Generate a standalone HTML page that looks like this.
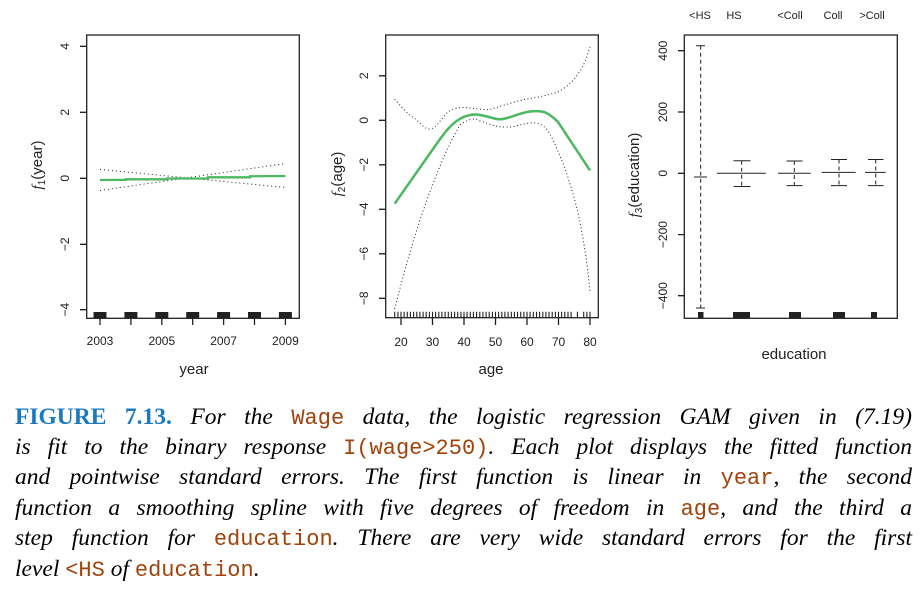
<!DOCTYPE html>
<html><head><meta charset="utf-8"><style>
body{margin:0;background:#fff;width:920px;height:590px;overflow:hidden;position:relative}
svg{position:absolute;left:0;top:0}
.cap{position:absolute;left:15px;width:897px;font-family:"Liberation Serif",serif;font-style:italic;font-size:23.5px;text-align:justify;text-align-last:justify;white-space:nowrap;line-height:30px}
.cap.last{text-align-last:left}
.b{font-style:normal;font-weight:bold;color:#1a78c0}
.c{font-family:"Liberation Mono",monospace;font-style:normal;color:#a0420a;font-size:22px}
</style></head><body>
<svg width="920" height="390" font-family="Liberation Sans, sans-serif" font-size="12" fill="#222">
<g fill="none" stroke="#222" stroke-width="1.3">
<rect x="86.7" y="35" width="212.6" height="283.3"/>
<rect x="385.7" y="35" width="212.6" height="282.7"/>
<rect x="684.3" y="35" width="213" height="283.3"/>
<path d="M80 46.3h6.7M80 112.3h6.7M80 178.3h6.7M80 244.3h6.7M80 309.7h6.7"/>
<path d="M100 318v7M130.9 318v7M161.8 318v7M192.7 318v7M223.6 318v7M254.5 318v7M285.4 318v7"/>
<path d="M379 75.8h6.7M379 120.3h6.7M379 164.8h6.7M379 209.3h6.7M379 253.8h6.7M379 298.3h6.7"/>
<path d="M401 318v7M432.5 318v7M464 318v7M495.5 318v7M527 318v7M558.5 318v7M590 318v7"/>
<path d="M678 50.7h6.3M678 112h6.3M678 173.3h6.3M678 234.6h6.3M678 295.7h6.3"/>
</g>
<g fill="#222">
<rect x="93.5" y="312" width="13" height="6"/><rect x="124.4" y="312" width="13" height="6"/><rect x="155.3" y="312" width="13" height="6"/><rect x="186.2" y="312" width="13" height="6"/><rect x="217.1" y="312" width="13" height="6"/><rect x="248" y="312" width="13" height="6"/><rect x="278.9" y="312" width="13" height="6"/>
<rect x="698" y="312" width="5.5" height="6"/><rect x="733" y="312" width="17" height="6"/><rect x="789" y="312" width="12" height="6"/><rect x="833" y="312" width="12" height="6"/><rect x="871" y="312" width="6" height="6"/>
</g>
<path id="rug" stroke="#222" stroke-width="1.1" fill="none" d=""/>
<path d="M100 169.4L285.4 187.5" stroke="#222" stroke-width="1" stroke-dasharray="1,3" fill="none"/>
<path d="M100 190.5L285.4 163.5" stroke="#222" stroke-width="1" stroke-dasharray="1,3" fill="none"/>
<path d="M100 180L126 179.8 126 179.3 167 179.3 167 178.5 208 178.5 208 177.3 250 177.3 250 176.3 285.4 176" stroke="#4cb862" stroke-width="2.3" fill="none"/>
<path d="M394.7 99.2 C400 105,407 114,414 118 C420 122,425 130,430 129 C437 128,442 117,448 112 C455 107,462 107,470 108 C480 109,488 111,495 108 C505 105,520 100,527 99 C540 97,548 95,558 92 C565 88,572 83,578 74 C584 66,587 57,590 46.9" stroke="#222" stroke-width="1" stroke-dasharray="1,2.5" fill="none"/>
<path d="M394.7 309 C402 280,410 250,420 220 C432 185,445 150,460 125 C470 118,475 118,480 121 C490 124,497 128,510 127 C520 126,525 122,536 123 C545 125,548 130,553 140 C560 155,566 170,571 187 C578 210,585 240,590 291.6" stroke="#222" stroke-width="1" stroke-dasharray="1,2.5" fill="none"/>
<path d="M394.7 203.7 L433 149 C446 130,455 118,470 115 C480 113,490 118,498 119.2 C507 120,518 113,530 111.5 C543 110,548 112,558 122 L590 170.4" stroke="#4cb862" stroke-width="2.5" fill="none"/>
<g stroke="#222" stroke-width="1" fill="none">
<path d="M700.7 45.7V308" stroke-dasharray="4,3"/>
<path d="M694 177h13M696 45.7h9M696 308h9"/>
<path d="M717 173.3h48.7M733.5 160.7h17M733.5 186.5h17"/>
<path d="M741.7 160.7v26" stroke-dasharray="4,3"/>
<path d="M778 173.3h32.7M786.5 161h16M786.5 185.6h16"/>
<path d="M794.3 161v25" stroke-dasharray="4,3"/>
<path d="M821.7 172.4h34M831 159.5h16M831 185.6h16"/>
<path d="M839 159.5v26" stroke-dasharray="4,3"/>
<path d="M865 172.4h20.7M868 159.5h15.5M868 185.6h15.5"/>
<path d="M875.7 159.5v26" stroke-dasharray="4,3"/>
</g>
<g text-anchor="middle">
<text x="100" y="345">2003</text><text x="161.8" y="345">2005</text><text x="223.6" y="345">2007</text><text x="285.4" y="345">2009</text>
<text x="194" y="374" font-size="15">year</text>
<text x="401" y="346">20</text><text x="432.5" y="346">30</text><text x="464" y="346">40</text><text x="495.5" y="346">50</text><text x="527" y="346">60</text><text x="558.5" y="346">70</text><text x="590" y="346">80</text>
<text x="491" y="374" font-size="15">age</text>
<text x="794" y="359" font-size="15">education</text>
<text x="700" y="19" font-size="11">&lt;HS</text><text x="734" y="19" font-size="11">HS</text><text x="790" y="19" font-size="11">&lt;Coll</text><text x="833" y="19" font-size="11">Coll</text><text x="872" y="19" font-size="11">&gt;Coll</text>
</g>
<g text-anchor="middle">
<text transform="translate(69,46.3) rotate(-90)">4</text><text transform="translate(69,112.3) rotate(-90)">2</text><text transform="translate(69,178.3) rotate(-90)">0</text><text transform="translate(69,244.3) rotate(-90)">−2</text><text transform="translate(69,309.7) rotate(-90)">−4</text>
<text transform="translate(368,75.8) rotate(-90)">2</text><text transform="translate(368,120.3) rotate(-90)">0</text><text transform="translate(368,164.8) rotate(-90)">−2</text><text transform="translate(368,209.3) rotate(-90)">−4</text><text transform="translate(368,253.8) rotate(-90)">−6</text><text transform="translate(368,298.3) rotate(-90)">−8</text>
<text transform="translate(667,50.7) rotate(-90)">400</text><text transform="translate(667,112) rotate(-90)">200</text><text transform="translate(667,173.3) rotate(-90)">0</text><text transform="translate(667,234.6) rotate(-90)">−200</text><text transform="translate(667,295.7) rotate(-90)">−400</text>
<text transform="translate(42,165) rotate(-90)" font-size="15"><tspan font-family="Liberation Serif, serif" font-style="italic">f</tspan><tspan font-size="10" dy="3">1</tspan><tspan dy="-3">(year)</tspan></text>
<text transform="translate(342,174) rotate(-90)" font-size="15"><tspan font-family="Liberation Serif, serif" font-style="italic">f</tspan><tspan font-size="10" dy="3">2</tspan><tspan dy="-3">(age)</tspan></text>
<text transform="translate(639,175) rotate(-90)" font-size="15"><tspan font-family="Liberation Serif, serif" font-style="italic">f</tspan><tspan font-size="10" dy="3">3</tspan><tspan dy="-3">(education)</tspan></text>
</g>
</svg>
<div class="cap" style="top:402px"><span class="b">FIGURE 7.13.</span> For the <span class="c">Wage</span> data, the logistic regression GAM given in (7.19)</div>
<div class="cap" style="top:432px">is fit to the binary response <span class="c">I(wage&gt;250)</span>. Each plot displays the fitted function</div>
<div class="cap" style="top:462px">and pointwise standard errors. The first function is linear in <span class="c">year</span>, the second</div>
<div class="cap" style="top:493px">function a smoothing spline with five degrees of freedom in <span class="c">age</span>, and the third a</div>
<div class="cap" style="top:523px">step function for <span class="c">education</span>. There are very wide standard errors for the first</div>
<div class="cap last" style="top:554px">level <span class="c">&lt;HS</span> of <span class="c">education</span>.</div>
<script>
var d="";for(var a=18;a<=80;a++){if(a>74&&a%2==1&&a!=79)continue;var x=401+(a-20)*3.15;d+="M"+x.toFixed(1)+" 311.7V317.7";}
document.getElementById("rug").setAttribute("d",d);
</script>
</body></html>
